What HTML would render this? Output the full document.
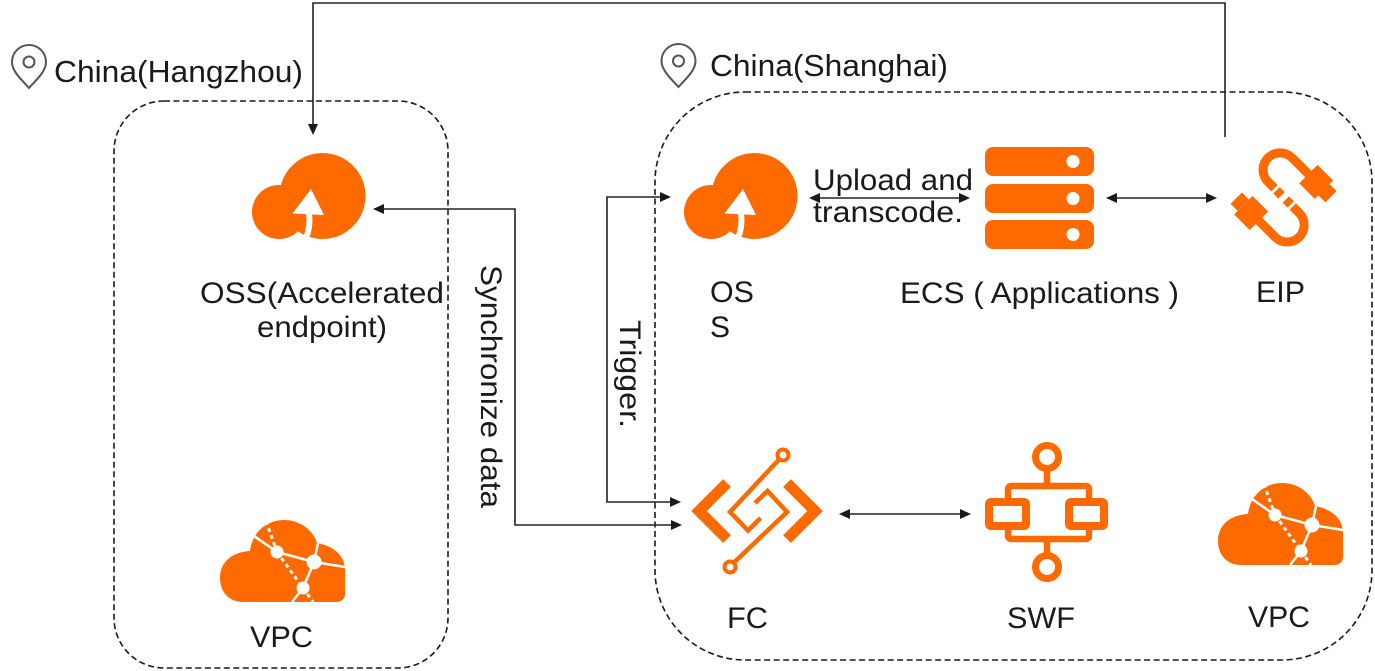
<!DOCTYPE html>
<html>
<head>
<meta charset="utf-8">
<style>
  html, body { margin:0; padding:0; background:#fff; }
  body { width:1375px; height:671px; overflow:hidden; }
  svg { display:block; }
  text { font-family:"Liberation Sans", Arial, "Noto Sans CJK SC", sans-serif; fill:#1a1a1a; }
</style>
</head>
<body>
<svg width="1375" height="671" viewBox="0 0 1375 671" xmlns="http://www.w3.org/2000/svg">
  <rect width="1375" height="671" fill="#fff"/>

  <!-- Region boxes -->
  <rect x="114" y="101" width="334" height="567" rx="50" ry="50" fill="none" stroke="#1a1a1a" stroke-width="1.6" stroke-dasharray="6 3.5"/>
  <rect x="655" y="92" width="717" height="568" rx="90" ry="90" fill="none" stroke="#1a1a1a" stroke-width="1.6" stroke-dasharray="6 3.5"/>

  <!-- Pins -->
  <g fill="none" stroke="#555" stroke-width="2">
    <path d="M29 88 C23 81 12 72 12 62 A17 17 0 1 1 46 62 C46 72 35 81 29 88 Z"/>
    <circle cx="29" cy="62" r="5.5"/>
    <path d="M678.5 87 C672.5 80 661.5 71 661.5 61 A17 17 0 1 1 695.5 61 C695.5 71 684.5 80 678.5 87 Z"/>
    <circle cx="678.5" cy="61" r="5.5"/>
  </g>

  <!-- Titles -->
  <text x="54" y="82" font-size="31" textLength="249" lengthAdjust="spacingAndGlyphs">China(Hangzhou)</text>
  <text x="710" y="76" font-size="31" textLength="238" lengthAdjust="spacingAndGlyphs">China(Shanghai)</text>

  <!-- Connectors -->
  <g fill="none" stroke="#222" stroke-width="1.6">
    <path d="M1225 137 V3 H313 V125"/>
    <path d="M383 209 H515 V525 H672"/>
    <path d="M660 197 H607 V502 H671"/>
    <path d="M819 198 H960"/>
    <path d="M1116 198 H1207"/>
    <path d="M849 514 H961"/>
  </g>
  <g fill="#1a1a1a">
    <polygon points="313,135 308,124 318,124"/>
    <polygon points="373,209 384,204 384,214"/>
    <polygon points="682,525 671,520 671,530"/>
    <polygon points="671,197 660,192 660,202"/>
    <polygon points="681,502 670,497 670,507"/>
    <polygon points="809,198 820,193 820,203"/>
    <polygon points="970,198 959,193 959,203"/>
    <polygon points="1106,198 1117,193 1117,203"/>
    <polygon points="1217,198 1206,193 1206,203"/>
    <polygon points="839,514 850,509 850,519"/>
    <polygon points="971,514 960,509 960,519"/>
  </g>

  <!-- OSS clouds -->
  <g>
    <circle cx="322.5" cy="196" r="43" fill="#ff6a00"/>
    <circle cx="279" cy="212" r="27" fill="#ff6a00"/>
    <polygon points="311,189 292.5,213.5 324,215" fill="#fff"/>
    <path d="M309 213 Q311 229 304 242" fill="none" stroke="#fff" stroke-width="6"/>
  </g>
  <g transform="translate(432,0)">
    <circle cx="322.5" cy="196" r="43" fill="#ff6a00"/>
    <circle cx="279" cy="212" r="27" fill="#ff6a00"/>
    <polygon points="311,189 292.5,213.5 324,215" fill="#fff"/>
    <path d="M309 213 Q311 229 304 242" fill="none" stroke="#fff" stroke-width="6"/>
  </g>

  <!-- ECS -->
  <g fill="#ff6a00">
    <rect x="985" y="147" width="109" height="29" rx="8"/>
    <rect x="985" y="184" width="109" height="29" rx="8"/>
    <rect x="985" y="220" width="109" height="29" rx="8"/>
  </g>
  <g fill="#fff">
    <circle cx="1073" cy="161.5" r="6.5"/>
    <circle cx="1073" cy="198.5" r="6.5"/>
    <circle cx="1073" cy="234.5" r="6.5"/>
  </g>

  <!-- EIP -->
  <g transform="translate(1285,196) rotate(45)">
    <g fill="none" stroke="#ff6a00" stroke-width="9">
      <path d="M3 -32 L-22 -32 A17 17 0 0 0 -22 2 L-13 2"/>
      <path d="M-3 36 L22 36 A17 17 0 0 0 22 2 L13 2"/>
    </g>
    <g fill="#ff6a00">
      <rect x="-10" y="-2.5" width="7" height="9"/>
      <rect x="3" y="-2.5" width="7" height="9"/>
      <rect x="1" y="-45" width="22" height="26"/>
      <rect x="23" y="-40" width="10" height="16"/>
      <rect x="-23" y="23" width="22" height="26"/>
      <rect x="-33" y="28" width="10" height="16"/>
    </g>
  </g>

  <!-- FC -->
  <g fill="none" stroke="#ff6a00">
    <polyline points="727,483 699,511 727,539" stroke-width="11"/>
    <polyline points="787,483 815,511 787,539" stroke-width="11"/>
    <path d="M779 459.5 L730 512 L748 530.5 L760.5 518" stroke-width="4.5" stroke-linejoin="miter"/>
    <path d="M734 562.5 L787 512 L767.5 491 L755 503" stroke-width="4.5" stroke-linejoin="miter"/>
    <circle cx="783" cy="455" r="5.5" fill="#fff" stroke-width="4"/>
    <circle cx="730" cy="567" r="5.5" fill="#fff" stroke-width="4"/>
  </g>

  <!-- SWF -->
  <g fill="none" stroke="#ff6a00">
    <line x1="1047" y1="466" x2="1047" y2="487" stroke-width="6.5"/>
    <line x1="1047" y1="538" x2="1047" y2="558" stroke-width="6.5"/>
    <rect x="1008" y="486" width="81" height="53" rx="3" stroke-width="6.5"/>
    <rect x="989" y="502" width="37" height="24" rx="2" stroke-width="8" fill="#fff"/>
    <rect x="1069" y="502" width="35" height="24" rx="2" stroke-width="8" fill="#fff"/>
    <circle cx="1047" cy="457" r="11.5" stroke-width="7" fill="#fff"/>
    <circle cx="1047" cy="567" r="11.5" stroke-width="7" fill="#fff"/>
  </g>

  <!-- VPC Hangzhou -->
  <g>
    <path d="M243 602 C229 602 220 592 220 578 C220 562 232 552 250 551 C252 533 266 520 284 520 C300 520 313 530 317 543 C334 546 345 556 345 570 L345 594 C345 599 341 602 336 602 Z" fill="#ff6a00"/>
    <g stroke="#fff" stroke-width="2.5" fill="none">
      <line x1="251" y1="534" x2="277" y2="552"/>
      <line x1="277" y1="552" x2="314" y2="562"/>
      <line x1="314" y1="562" x2="318" y2="543"/>
      <line x1="314" y1="562" x2="345" y2="567"/>
      <line x1="314" y1="562" x2="303" y2="588"/>
      <line x1="303" y1="588" x2="292" y2="602"/>
      <g stroke-dasharray="4 3.5" stroke-width="3">
        <line x1="266" y1="521" x2="277" y2="552"/>
        <line x1="277" y1="552" x2="303" y2="588"/>
        <line x1="303" y1="588" x2="313" y2="602"/>
      </g>
    </g>
    <g fill="#fff">
      <circle cx="277" cy="552" r="6.5"/>
      <circle cx="314" cy="562" r="7.5"/>
      <circle cx="303" cy="588" r="6.5"/>
    </g>
  </g>
  <!-- VPC Shanghai -->
  <g transform="translate(998,-37)">
    <path d="M243 602 C229 602 220 592 220 578 C220 562 232 552 250 551 C252 533 266 520 284 520 C300 520 313 530 317 543 C334 546 345 556 345 570 L345 594 C345 599 341 602 336 602 Z" fill="#ff6a00"/>
    <g stroke="#fff" stroke-width="2.5" fill="none">
      <line x1="251" y1="534" x2="277" y2="552"/>
      <line x1="277" y1="552" x2="314" y2="562"/>
      <line x1="314" y1="562" x2="318" y2="543"/>
      <line x1="314" y1="562" x2="345" y2="567"/>
      <line x1="314" y1="562" x2="303" y2="588"/>
      <line x1="303" y1="588" x2="292" y2="602"/>
      <g stroke-dasharray="4 3.5" stroke-width="3">
        <line x1="266" y1="521" x2="277" y2="552"/>
        <line x1="277" y1="552" x2="303" y2="588"/>
        <line x1="303" y1="588" x2="313" y2="602"/>
      </g>
    </g>
    <g fill="#fff">
      <circle cx="277" cy="552" r="6.5"/>
      <circle cx="314" cy="562" r="7.5"/>
      <circle cx="303" cy="588" r="6.5"/>
    </g>
  </g>

  <!-- Labels -->
  <text x="200" y="303" font-size="30" textLength="244" lengthAdjust="spacingAndGlyphs">OSS(Accelerated</text>
  <text x="257" y="337" font-size="30" textLength="130" lengthAdjust="spacingAndGlyphs">endpoint)</text>
  <text x="710" y="302" font-size="30" textLength="44" lengthAdjust="spacingAndGlyphs">OS</text>
  <text x="710" y="337" font-size="30">S</text>
  <text x="813" y="190" font-size="30" textLength="160" lengthAdjust="spacingAndGlyphs">Upload and</text>
  <text x="813" y="222" font-size="30" textLength="150" lengthAdjust="spacingAndGlyphs">transcode.</text>
  <text x="900" y="303" font-size="30" textLength="279" lengthAdjust="spacingAndGlyphs">ECS ( Applications )</text>
  <text x="1256" y="302" font-size="30" textLength="49" lengthAdjust="spacingAndGlyphs">EIP</text>
  <text x="727" y="628" font-size="30" textLength="41" lengthAdjust="spacingAndGlyphs">FC</text>
  <text x="1007" y="628" font-size="30" textLength="68" lengthAdjust="spacingAndGlyphs">SWF</text>
  <text x="250" y="647" font-size="30" textLength="63" lengthAdjust="spacingAndGlyphs">VPC</text>
  <text x="1248" y="627" font-size="30" textLength="62" lengthAdjust="spacingAndGlyphs">VPC</text>
  <text transform="translate(481,265) rotate(90)" font-size="30" textLength="243" lengthAdjust="spacingAndGlyphs">Synchronize data</text>
  <text transform="translate(620,320) rotate(90)" font-size="30" textLength="108" lengthAdjust="spacingAndGlyphs">Trigger.</text>
</svg>
</body>
</html>
